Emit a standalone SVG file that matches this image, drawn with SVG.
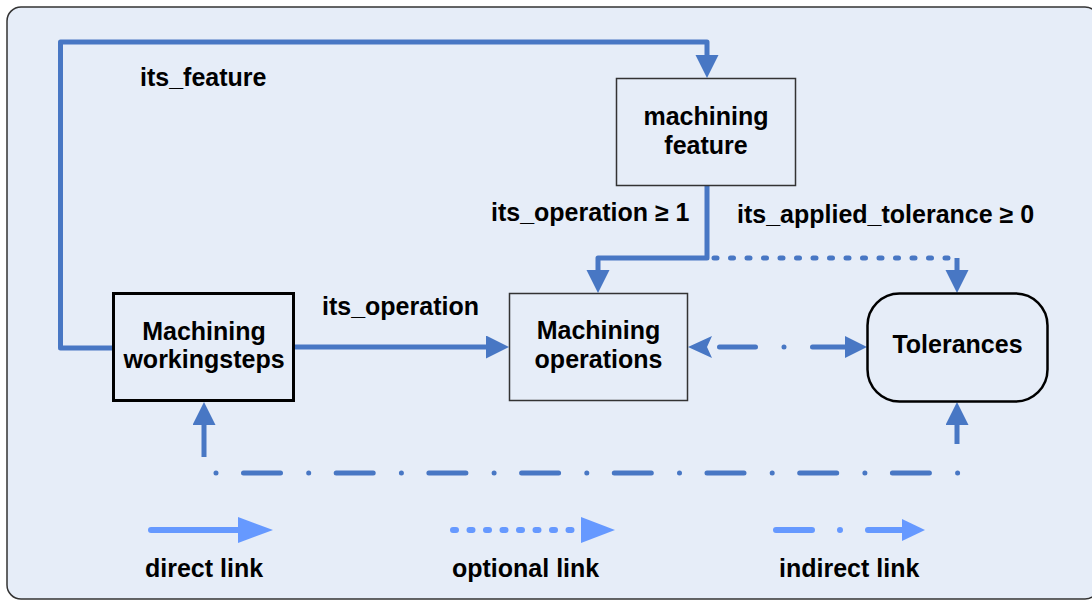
<svg xmlns="http://www.w3.org/2000/svg" width="1092" height="601" viewBox="0 0 1092 601">
  <style>
    .t { font-family: "Liberation Sans", Arial, sans-serif; font-weight: bold; font-size: 25px; fill: #000; }
    .mid { text-anchor: middle; }
    .box { fill: #E6EDF8; stroke: #333; stroke-width: 1.5; }
    .boxb { fill: #E6EDF8; stroke: #000; stroke-width: 3; }
    .boxr { fill: #E6EDF8; stroke: #000; stroke-width: 2.5; }
    .c { fill: none; stroke: #4877C4; stroke-width: 5; stroke-linejoin: round; }
    .dot { stroke-dasharray: 3 13.5; stroke-linecap: round; }
    .dd { stroke-linecap: round; }
    .ah { fill: #4877C4; }
    .lg { fill: none; stroke: #6699FF; stroke-width: 6; stroke-linecap: round; }
    .lah { fill: #6699FF; }
  </style>
  <defs>
    <marker id="arr" markerUnits="userSpaceOnUse" markerWidth="26" markerHeight="24" refX="0" refY="11.5" orient="auto-start-reverse" viewBox="0 0 26 24">
      <path d="M0,0 L23,11.5 L0,23 Z" class="ah"/>
    </marker>
  </defs>
  <rect x="7" y="7" width="1092" height="592" rx="14" ry="14" fill="#E6EDF8" stroke="#333" stroke-width="1.5"/>

  <g id="connectors">
    <!-- its_feature -->
    <path class="c" d="M113,348 H60.5 V42 H707 V55" marker-end="url(#arr)"/>
    <!-- its_operation >= 1 -->
    <path class="c" d="M707,185 V258 H598 V270" marker-end="url(#arr)"/>
    <!-- its_applied_tolerance (optional) -->
    <path class="c dot" d="M714,258 H950"/>
    <path class="c" d="M957,258 V270" marker-end="url(#arr)"/>
    <!-- its_operation -->
    <path class="c" d="M294,347 H486" marker-end="url(#arr)"/>
    <!-- indirect operations <-> tolerances -->
    <path class="c dd" d="M719.5,347 H755.5 M784,347 H784 M812.5,347 H846"/>
    <path class="ah" d="M688,347 L712,336 L707,347 L712,358 Z"/>
    <path class="ah" d="M845,336 L867,347 L845,358 Z"/>
    <!-- indirect bottom -->
    <path class="c dd" d="M216,473 H959" stroke-dasharray="0 27.5 37 28.2"/>
    <path class="c" d="M204,457 V425" marker-end="url(#arr)"/>
    <path class="c" d="M957,444 V425" marker-end="url(#arr)"/>
  </g>

  <g id="feature">
    <rect class="box" x="616.5" y="78.5" width="179" height="107"/>
    <text class="t mid" x="706" y="125">machining</text>
    <text class="t mid" x="706" y="154">feature</text>
  </g>
  <g id="workingsteps">
    <rect class="boxb" x="113.5" y="293.5" width="180" height="107"/>
    <text class="t mid" x="204" y="340">Machining</text>
    <text class="t mid" x="204" y="368">workingsteps</text>
  </g>
  <g id="operations">
    <rect class="box" x="509.5" y="293.5" width="178" height="107"/>
    <text class="t mid" x="598.5" y="339">Machining</text>
    <text class="t mid" x="598.5" y="368">operations</text>
  </g>
  <g id="tolerances">
    <rect class="boxr" x="867.5" y="293.5" width="180" height="108" rx="32" ry="32"/>
    <text class="t mid" x="957.5" y="353">Tolerances</text>
  </g>

  <g id="labels">
    <text class="t" x="140" y="86">its_feature</text>
    <text class="t" x="491" y="221">its_operation ≥ 1</text>
    <text class="t" x="737" y="223">its_applied_tolerance ≥ 0</text>
    <text class="t" x="322" y="315">its_operation</text>
  </g>

  <g id="legend">
    <path class="lg" d="M151,530 H239"/>
    <path class="lah" d="M238,517 L273,530 L238,543 Z"/>
    <path class="lg" d="M453,530 H577" stroke-dasharray="3 13.5"/>
    <path class="lah" d="M581,517 L615,530 L581,543 Z"/>
    <path class="lg" d="M776,530 H812 M840,530 H840 M868,530 H903"/>
    <path class="lah" d="M902,519 L925,530 L902,541 Z"/>
    <text class="t" x="145" y="577">direct link</text>
    <text class="t" x="452" y="577">optional link</text>
    <text class="t" x="779" y="577">indirect link</text>
  </g>
</svg>
